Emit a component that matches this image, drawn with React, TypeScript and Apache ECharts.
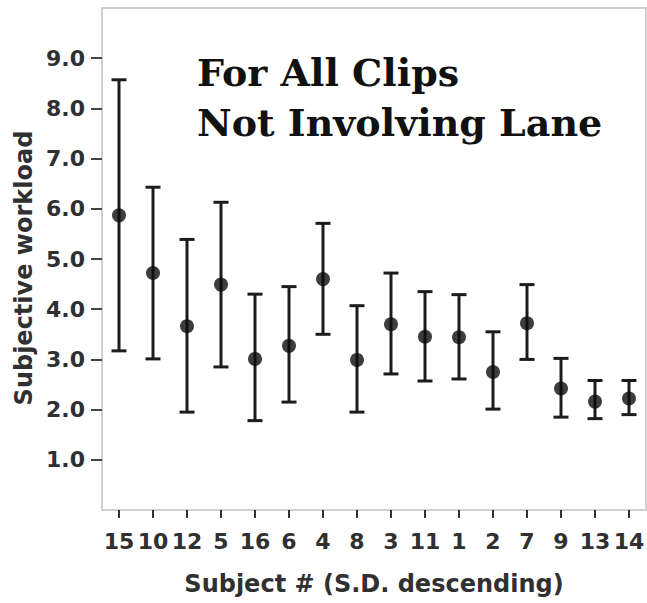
import React, { useEffect, useRef } from "react";
import * as echarts from "echarts";

// Subjects ordered by descending standard deviation
const subjects = ["15", "10", "12", "5", "16", "6", "4", "8", "3", "11", "1", "2", "7", "9", "13", "14"];
const means = [5.87, 4.72, 3.66, 4.49, 3.01, 3.27, 4.6, 2.99, 3.7, 3.45, 3.44, 2.75, 3.72, 2.42, 2.16, 2.22];
const lows = [3.17, 3.01, 1.95, 2.85, 1.78, 2.15, 3.5, 1.95, 2.71, 2.57, 2.61, 2.01, 3.0, 1.85, 1.82, 1.9];
const highs = [8.57, 6.43, 5.39, 6.13, 4.3, 4.45, 5.71, 4.07, 4.72, 4.35, 4.29, 3.55, 4.49, 3.02, 2.58, 2.58];
// Workload scale runs 0–10; only the inner whole numbers 1–9 get a tick and a label
const yMin = 0;
const yMax = 10;
const yTickMin = 1;
const yTickMax = 9;

const W = 647;
const H = 603;
const plot = { left: 102, right: 1, top: 8, bottom: 93 };
const tickLength = 11;

const ink = "#1c1c1c";
const labelColor = "#303030";
const sans = "'DejaVu Sans', sans-serif";

export default function App() {
  const ref = useRef<HTMLDivElement>(null);

  useEffect(() => {
    if (!ref.current) return;
    const chart = echarts.init(ref.current, null, { renderer: "svg" });

    const barData = subjects.map((_, i) => [i, lows[i], highs[i]]);

    // A narrow strip just left of the plot spans the 1–9 band of the main scale;
    // its split lines form the tick marks and its axis carries labels and title.
    const pxPerUnit = (H - plot.top - plot.bottom) / (yMax - yMin);
    const tickGrid = {
      left: plot.left - tickLength,
      right: W - plot.left,
      top: plot.top + (yMax - yTickMax) * pxPerUnit,
      bottom: plot.bottom + (yTickMin - yMin) * pxPerUnit,
    };

    chart.setOption({
      animation: false,
      backgroundColor: "#ffffff",
      title: {
        text: "For All Clips\nNot Involving Lane",
        left: 192,
        top: 42,
        textStyle: {
          fontFamily: "'DejaVu Serif', serif",
          fontWeight: "bold",
          fontSize: 38,
          lineHeight: 50,
          color: "#111111",
        },
      },
      grid: [
        {
          ...plot,
          outerBoundsMode: "none",
          containLabel: false,
          show: true,
          borderColor: "#cfcfcf",
          borderWidth: 2,
          backgroundColor: "#ffffff",
        },
        {
          ...tickGrid,
          outerBoundsMode: "none",
          containLabel: false,
          show: false,
        },
      ],
      xAxis: [
        {
          type: "category",
          gridIndex: 0,
          data: subjects,
          boundaryGap: true,
          name: "Subject # (S.D. descending)",
          nameLocation: "middle",
          nameGap: 62,
          nameTextStyle: {
            fontFamily: sans,
            fontWeight: "bold",
            fontSize: 24,
            color: labelColor,
          },
          axisLine: { show: false },
          axisTick: {
            show: true,
            alignWithLabel: true,
            length: 8,
            lineStyle: { color: "#333333", width: 2 },
          },
          axisLabel: {
            interval: 0,
            margin: 20,
            fontFamily: sans,
            fontWeight: "bold",
            fontSize: 22,
            color: labelColor,
          },
          splitLine: { show: false },
        },
        {
          type: "value",
          gridIndex: 1,
          show: false,
        },
      ],
      yAxis: [
        {
          // value scale used by the data
          type: "value",
          gridIndex: 0,
          min: yMin,
          max: yMax,
          show: false,
        },
        {
          // inner levels: tick marks, labels and the axis title
          type: "value",
          gridIndex: 1,
          min: yTickMin,
          max: yTickMax,
          interval: 1,
          name: "Subjective workload",
          nameLocation: "middle",
          nameGap: 66 - tickLength,
          nameTextStyle: {
            fontFamily: sans,
            fontWeight: "bold",
            fontSize: 24,
            color: labelColor,
            padding: [0, 18, 0, 0],
          },
          axisLine: { show: false },
          axisTick: { show: false },
          axisLabel: {
            showMinLabel: true,
            showMaxLabel: true,
            margin: 17 - tickLength,
            fontFamily: sans,
            fontWeight: "bold",
            fontSize: 22,
            color: labelColor,
            formatter: (v: number) => v.toFixed(1),
          },
          splitLine: {
            show: true,
            lineStyle: { color: "#444444", width: 2, type: "solid" },
          },
        },
      ],
      series: [
        {
          type: "custom",
          name: "range",
          xAxisIndex: 0,
          yAxisIndex: 0,
          data: barData,
          renderItem: (params: any, api: any) => {
            const idx = api.value(0);
            const lo = api.coord([idx, api.value(1)]);
            const hi = api.coord([idx, api.value(2)]);
            const half = 7.5;
            const style = { stroke: ink, lineWidth: 3 };
            return {
              type: "group",
              children: [
                { type: "line", shape: { x1: lo[0], y1: lo[1], x2: hi[0], y2: hi[1] }, style },
                { type: "line", shape: { x1: hi[0] - half, y1: hi[1], x2: hi[0] + half, y2: hi[1] }, style },
                { type: "line", shape: { x1: lo[0] - half, y1: lo[1], x2: lo[0] + half, y2: lo[1] }, style },
              ],
            };
          },
          z: 2,
        },
        {
          type: "scatter",
          name: "mean",
          xAxisIndex: 0,
          yAxisIndex: 0,
          data: means,
          symbol: "circle",
          symbolSize: 14,
          itemStyle: { color: "#0d0d0d" },
          z: 3,
        },
      ],
    });

    return () => chart.dispose();
  }, []);

  return (
    <div
      ref={ref}
      style={{ position: "fixed", left: 0, top: 0, width: W, height: H, background: "#ffffff" }}
    />
  );
}
